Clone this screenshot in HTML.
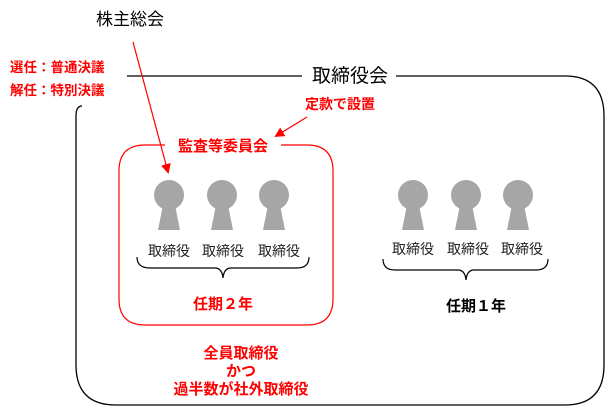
<!DOCTYPE html>
<html><head><meta charset="utf-8"><style>
body{margin:0;width:607px;height:407px;background:#fff;overflow:hidden;font-family:"Liberation Sans","Noto Sans CJK JP",sans-serif}
svg{position:absolute;left:0;top:0}
text{font-family:"Liberation Sans","Noto Sans CJK JP",sans-serif}
</style></head><body>
<svg width="607" height="407" viewBox="0 0 607 407">
<defs>
<marker id="a" markerWidth="10" markerHeight="10" refX="8" refY="5" orient="auto" markerUnits="userSpaceOnUse"><path d="M0,0 L10,5 L0,10 z" fill="#f00"/></marker>
<g id="p"><circle cx="0" cy="0" r="15" fill="#a6a6a6"/><path d="M-6,10 L6,10 L11,35 L-11,35 z" fill="#a6a6a6"/></g>
</defs>
<path d="M396,76 L565,76 Q604,76 604,116 L604,365 Q604,405 565,405 L116,405 Q76,405 76,365 L76,116 Q76,106 82,106" fill="none" stroke="#000" stroke-width="1.3"/>
<line x1="127" y1="76" x2="302" y2="76" stroke="#000" stroke-width="1.3"/>
<text x="350" y="82" font-size="19" text-anchor="middle" fill="#000">取締役会</text>
<path d="M165,145 L145,145 Q119,145 119,171 L119,299 Q119,325 145,325 L307,325 Q333,325 333,299 L333,171 Q333,145 307,145 L281,145" fill="none" stroke="#f00" stroke-width="1.2"/>
<text x="223" y="151" font-size="15" font-weight="bold" text-anchor="middle" fill="#f00">監査等委員会</text>
<use href="#p" x="169" y="195"/><use href="#p" x="222" y="195"/><use href="#p" x="274" y="195"/>
<use href="#p" x="413" y="195"/><use href="#p" x="466" y="195"/><use href="#p" x="518" y="195"/>
<g font-size="14" fill="#222" text-anchor="middle">
<text x="169" y="256">取締役</text><text x="223" y="256">取締役</text><text x="279" y="256">取締役</text>
<text x="413" y="254">取締役</text><text x="468" y="254">取締役</text><text x="522" y="254">取締役</text>
</g>
<path d="M137,257 Q137,268 150,268 L215,268 Q222,268 223,278 Q224,268 231,268 L297,268 Q309,268 309,257" fill="none" stroke="#000" stroke-width="1.2"/>
<path d="M383,259 Q383,270 395,270 L458,270 Q465,270 466,280 Q467,270 474,270 L536,270 Q548,270 548,259" fill="none" stroke="#000" stroke-width="1.2"/>
<text x="223" y="309" font-size="15" font-weight="bold" text-anchor="middle" fill="#f00">任期２年</text>
<text x="476" y="311" font-size="15" font-weight="bold" text-anchor="middle" fill="#000">任期１年</text>
<g font-size="15" font-weight="bold" text-anchor="middle" fill="#f00">
<text x="241" y="358">全員取締役</text><text x="241" y="376">かつ</text><text x="241" y="394">過半数が社外取締役</text>
</g>
<text x="130" y="25" font-size="17" text-anchor="middle" fill="#000">株主総会</text>
<line x1="133" y1="42" x2="168" y2="172" stroke="#f00" stroke-width="1.2" marker-end="url(#a)"/>
<g font-size="13.5" font-weight="bold" fill="#f00">
<text x="10" y="72">選任：普通決議</text><text x="10" y="95">解任：特別決議</text>
</g>
<text x="340" y="109" font-size="14" font-weight="bold" text-anchor="middle" fill="#f00">定款で設置</text>
<line x1="307" y1="117" x2="276" y2="136" stroke="#f00" stroke-width="1.2" marker-end="url(#a)"/>
</svg>
</body></html>
